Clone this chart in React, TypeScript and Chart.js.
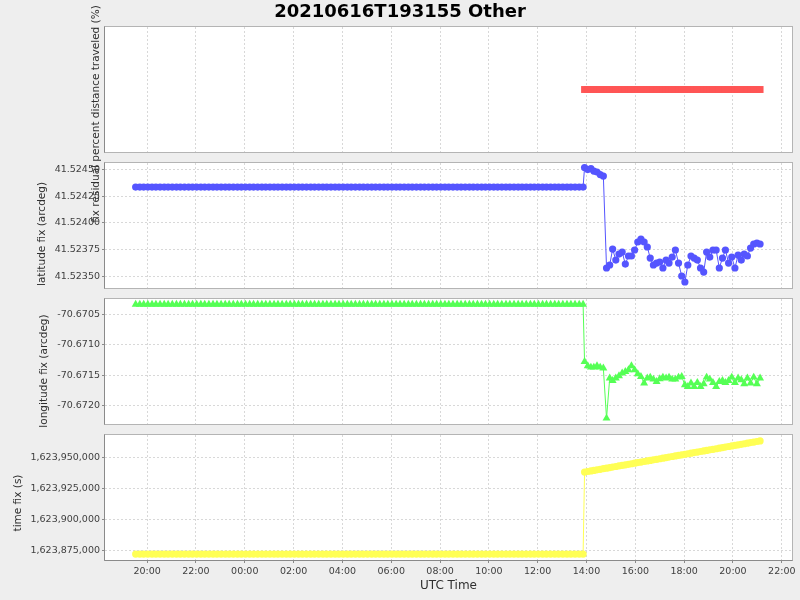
import React, { useEffect, useRef } from 'react';
import { Chart, registerables } from 'chart.js';

Chart.register(...registerables);

// ---------- data (hours since 2021-06-16 00:00 UTC) ----------
const timeHoursA = [
  19.53, 19.70, 19.86,
  20.03, 20.20, 20.36, 20.53, 20.70, 20.86,
  21.03, 21.20, 21.36, 21.53, 21.70, 21.86,
  22.03, 22.20, 22.36, 22.53, 22.70, 22.86,
  23.03, 23.20, 23.36, 23.53, 23.70, 23.86,
  24.03, 24.20, 24.36, 24.53, 24.70, 24.86,
  25.03, 25.20, 25.36, 25.53, 25.70, 25.86,
  26.03, 26.20, 26.36, 26.53, 26.70, 26.86,
  27.03, 27.20, 27.36, 27.53, 27.70, 27.86,
  28.03, 28.20, 28.36, 28.53, 28.70, 28.86,
  29.03, 29.20, 29.36, 29.53, 29.70, 29.86,
  30.03, 30.20, 30.36, 30.53, 30.70, 30.86,
  31.03, 31.20, 31.36, 31.53, 31.70, 31.86,
  32.03, 32.20, 32.36, 32.53, 32.70, 32.86,
  33.03, 33.20, 33.36, 33.53, 33.70, 33.86,
  34.03, 34.20, 34.36, 34.53, 34.70, 34.86,
  35.03, 35.20, 35.36, 35.53, 35.70, 35.86,
  36.03, 36.20, 36.36, 36.53, 36.70, 36.86,
  37.03, 37.20, 37.36, 37.53, 37.70, 37.86,
];

const timeHoursB = [
  37.92, 38.05, 38.18, 38.30, 38.43, 38.56, 38.69, 38.82, 38.95, 39.07,
  39.20, 39.33, 39.46, 39.59, 39.72, 39.84, 39.97, 40.10, 40.23, 40.36,
  40.49, 40.61, 40.74, 40.87, 41.00, 41.13, 41.26, 41.38, 41.51, 41.64,
  41.77, 41.90, 42.03, 42.15, 42.28, 42.41, 42.54, 42.67, 42.80, 42.92,
  43.05, 43.18, 43.31, 43.44, 43.57, 43.69, 43.82, 43.95, 44.08, 44.21,
  44.34, 44.46, 44.59, 44.72, 44.85, 44.98, 45.11,
];

const latitudeA = [
  41.524334, 41.524334, 41.524334,
  41.524334, 41.524334, 41.524334, 41.524334, 41.524334, 41.524334,
  41.524334, 41.524334, 41.524334, 41.524334, 41.524334, 41.524334,
  41.524334, 41.524334, 41.524334, 41.524334, 41.524334, 41.524334,
  41.524334, 41.524334, 41.524334, 41.524334, 41.524334, 41.524334,
  41.524334, 41.524334, 41.524334, 41.524334, 41.524334, 41.524334,
  41.524334, 41.524334, 41.524334, 41.524334, 41.524334, 41.524334,
  41.524334, 41.524334, 41.524334, 41.524334, 41.524334, 41.524334,
  41.524334, 41.524334, 41.524334, 41.524334, 41.524334, 41.524334,
  41.524334, 41.524334, 41.524334, 41.524334, 41.524334, 41.524334,
  41.524334, 41.524334, 41.524334, 41.524334, 41.524334, 41.524334,
  41.524334, 41.524334, 41.524334, 41.524334, 41.524334, 41.524334,
  41.524334, 41.524334, 41.524334, 41.524334, 41.524334, 41.524334,
  41.524334, 41.524334, 41.524334, 41.524334, 41.524334, 41.524334,
  41.524334, 41.524334, 41.524334, 41.524334, 41.524334, 41.524334,
  41.524334, 41.524334, 41.524334, 41.524334, 41.524334, 41.524334,
  41.524334, 41.524334, 41.524334, 41.524334, 41.524334, 41.524334,
  41.524334, 41.524334, 41.524334, 41.524334, 41.524334, 41.524334,
  41.524334, 41.524334, 41.524334, 41.524334, 41.524334, 41.524334,
];

const latitudeB = [
  41.524517, 41.524498, 41.524507, 41.524484, 41.524475, 41.524451, 41.524437,
  41.523578, 41.523606, 41.523755, 41.523652, 41.523708, 41.523727, 41.523615,
  41.523690, 41.523690, 41.523746, 41.523821, 41.523849, 41.523821, 41.523774,
  41.523671, 41.523606, 41.523624, 41.523634, 41.523578, 41.523652, 41.523624,
  41.523680, 41.523746, 41.523624, 41.523503, 41.523447, 41.523606, 41.523690,
  41.523671, 41.523652, 41.523578, 41.523540, 41.523727, 41.523680, 41.523746,
  41.523746, 41.523578, 41.523671, 41.523746, 41.523624, 41.523680, 41.523578,
  41.523699, 41.523652, 41.523708, 41.523690, 41.523764, 41.523802, 41.523811,
  41.523802,
];

const longitudeA = [
  -70.670338, -70.670338, -70.670338,
  -70.670338, -70.670338, -70.670338, -70.670338, -70.670338, -70.670338,
  -70.670338, -70.670338, -70.670338, -70.670338, -70.670338, -70.670338,
  -70.670338, -70.670338, -70.670338, -70.670338, -70.670338, -70.670338,
  -70.670338, -70.670338, -70.670338, -70.670338, -70.670338, -70.670338,
  -70.670338, -70.670338, -70.670338, -70.670338, -70.670338, -70.670338,
  -70.670338, -70.670338, -70.670338, -70.670338, -70.670338, -70.670338,
  -70.670338, -70.670338, -70.670338, -70.670338, -70.670338, -70.670338,
  -70.670338, -70.670338, -70.670338, -70.670338, -70.670338, -70.670338,
  -70.670338, -70.670338, -70.670338, -70.670338, -70.670338, -70.670338,
  -70.670338, -70.670338, -70.670338, -70.670338, -70.670338, -70.670338,
  -70.670338, -70.670338, -70.670338, -70.670338, -70.670338, -70.670338,
  -70.670338, -70.670338, -70.670338, -70.670338, -70.670338, -70.670338,
  -70.670338, -70.670338, -70.670338, -70.670338, -70.670338, -70.670338,
  -70.670338, -70.670338, -70.670338, -70.670338, -70.670338, -70.670338,
  -70.670338, -70.670338, -70.670338, -70.670338, -70.670338, -70.670338,
  -70.670338, -70.670338, -70.670338, -70.670338, -70.670338, -70.670338,
  -70.670338, -70.670338, -70.670338, -70.670338, -70.670338, -70.670338,
  -70.670338, -70.670338, -70.670338, -70.670338, -70.670338, -70.670338,
];

const longitudeB = [
  -70.671277, -70.671347, -70.671369, -70.671369, -70.671347, -70.671369, -70.671385,
  -70.672206, -70.671549, -70.671589, -70.671549, -70.671512, -70.671467, -70.671441,
  -70.671413, -70.671347, -70.671413, -70.671479, -70.671523, -70.671631, -70.671549,
  -70.671533, -70.671566, -70.671605, -70.671561, -70.671533, -70.671549, -70.671533,
  -70.671566, -70.671566, -70.671533, -70.671523, -70.671659, -70.671687, -70.671631,
  -70.671687, -70.671621, -70.671687, -70.671643, -70.671533, -70.671566, -70.671621,
  -70.671687, -70.671605, -70.671589, -70.671621, -70.671589, -70.671533, -70.671621,
  -70.671549, -70.671577, -70.671643, -70.671549, -70.671631, -70.671533, -70.671643,
  -70.671549,
];

const timeFixA = [
  1623872300, 1623872300, 1623872300,
  1623872300, 1623872300, 1623872300, 1623872300, 1623872300, 1623872300,
  1623872300, 1623872300, 1623872300, 1623872300, 1623872300, 1623872300,
  1623872300, 1623872300, 1623872300, 1623872300, 1623872300, 1623872300,
  1623872300, 1623872300, 1623872300, 1623872300, 1623872300, 1623872300,
  1623872300, 1623872300, 1623872300, 1623872300, 1623872300, 1623872300,
  1623872300, 1623872300, 1623872300, 1623872300, 1623872300, 1623872300,
  1623872300, 1623872300, 1623872300, 1623872300, 1623872300, 1623872300,
  1623872300, 1623872300, 1623872300, 1623872300, 1623872300, 1623872300,
  1623872300, 1623872300, 1623872300, 1623872300, 1623872300, 1623872300,
  1623872300, 1623872300, 1623872300, 1623872300, 1623872300, 1623872300,
  1623872300, 1623872300, 1623872300, 1623872300, 1623872300, 1623872300,
  1623872300, 1623872300, 1623872300, 1623872300, 1623872300, 1623872300,
  1623872300, 1623872300, 1623872300, 1623872300, 1623872300, 1623872300,
  1623872300, 1623872300, 1623872300, 1623872300, 1623872300, 1623872300,
  1623872300, 1623872300, 1623872300, 1623872300, 1623872300, 1623872300,
  1623872300, 1623872300, 1623872300, 1623872300, 1623872300, 1623872300,
  1623872300, 1623872300, 1623872300, 1623872300, 1623872300, 1623872300,
  1623872300, 1623872300, 1623872300, 1623872300, 1623872300, 1623872300,
];

const timeFixB = [
  1623938150, 1623938600, 1623939040, 1623939490, 1623939930, 1623940380, 1623940830,
  1623941270, 1623941720, 1623942160, 1623942610, 1623943060, 1623943500, 1623943950,
  1623944390, 1623944840, 1623945290, 1623945730, 1623946180, 1623946620, 1623947070,
  1623947520, 1623947960, 1623948410, 1623948850, 1623949300, 1623949750, 1623950190,
  1623950640, 1623951080, 1623951530, 1623951980, 1623952420, 1623952870, 1623953310,
  1623953760, 1623954210, 1623954650, 1623955100, 1623955540, 1623955990, 1623956440,
  1623956880, 1623957330, 1623957770, 1623958220, 1623958670, 1623959110, 1623959560,
  1623960000, 1623960450, 1623960900, 1623961340, 1623961790, 1623962230, 1623962680,
  1623963130,
];

const percentB = [
  0, 0, 0, 0, 0, 0, 0, 0, 0, 0, 0, 0, 0, 0, 0, 0, 0, 0, 0, 0,
  0, 0, 0, 0, 0, 0, 0, 0, 0, 0, 0, 0, 0, 0, 0, 0, 0, 0, 0, 0,
  0, 0, 0, 0, 0, 0, 0, 0, 0, 0, 0, 0, 0, 0, 0, 0, 0,
];

// ---------- ticks ----------
const xTickHours = [20, 22, 24, 26, 28, 30, 32, 34, 36, 38, 40, 42, 44, 46];
const xTickLabels = ['20:00', '22:00', '00:00', '02:00', '04:00', '06:00', '08:00', '10:00', '12:00', '14:00', '16:00', '18:00', '20:00', '22:00'];
const latTicks = [41.5235, 41.52375, 41.524, 41.52425, 41.5245];
const latTickLabels = ['41.52350', '41.52375', '41.52400', '41.52425', '41.52450'];
const lonTicks = [-70.672, -70.6715, -70.671, -70.6705];
const lonTickLabels = ['-70.6720', '-70.6715', '-70.6710', '-70.6705'];
const timeFixTicks = [1623875000, 1623900000, 1623925000, 1623950000];
const timeFixTickLabels = ['1,623,875,000', '1,623,900,000', '1,623,925,000', '1,623,950,000'];

const chartTitle = '20210616T193155 Other';
const xAxisTitle = 'UTC Time';
const yTitles = [
  'fix residual percent distance traveled (%)',
  'latitude fix (arcdeg)',
  'longitude fix (arcdeg)',
  'time fix (s)',
];

// ---------- layout / style ----------
const W = 800;
const H = 600;
const AREA_LEFT = 105;
const AREA_RIGHT = 792;
const X_MIN = 18.274;
const X_MAX = 46.418;
const GRID = '#d8d8d8';
const TICK_COLOR = '#404040';
const FONT = '"DejaVu Sans", "Noto Sans", sans-serif';
const tickFont = { family: FONT, size: 9.5 };

type TextItem = { text: string; x: number; y: number; font: string; color: string; rotate?: boolean };

function pairs(xs: number[], ys: number[]) {
  return ys.map((y, i) => ({ x: xs[i], y }));
}

function decorPlugin(texts: TextItem[], bottomAxis: boolean) {
  return {
    id: 'panelDecor',
    beforeDraw(chart: any) {
      const { ctx, chartArea: a } = chart;
      ctx.save();
      ctx.fillStyle = '#ffffff';
      ctx.fillRect(a.left, a.top, a.right - a.left, a.bottom - a.top);
      ctx.restore();
    },
    afterDraw(chart: any) {
      const { ctx, chartArea: a } = chart;
      ctx.save();
      ctx.lineWidth = 1;
      ctx.strokeStyle = '#b4b4b4';
      ctx.strokeRect(a.left - 0.5, a.top - 0.5, a.right - a.left + 1, a.bottom - a.top + 1);
      ctx.strokeStyle = '#8a8a8a';
      ctx.beginPath();
      ctx.moveTo(a.left - 0.5, a.top - 0.5);
      ctx.lineTo(a.left - 0.5, a.bottom + 0.5);
      if (bottomAxis) ctx.lineTo(a.right + 0.5, a.bottom + 0.5);
      ctx.stroke();
      for (const t of texts) {
        ctx.save();
        ctx.translate(t.x, t.y);
        if (t.rotate) ctx.rotate(-Math.PI / 2);
        ctx.font = t.font;
        ctx.fillStyle = t.color;
        ctx.textAlign = 'center';
        ctx.textBaseline = 'middle';
        ctx.fillText(t.text, 0, 0);
        ctx.restore();
      }
      ctx.restore();
    },
  };
}

type PanelSpec = {
  top: number;
  bottom: number;
  bottomAxis: boolean;
  yMin: number;
  yMax: number;
  yTicks: number[];
  yTickLabels: string[];
  datasets: any[];
  texts: TextItem[];
};

function makeConfig(p: PanelSpec): any {
  const xh = p.bottomAxis ? 40 : 0;
  const hasY = p.yTicks.length > 0;
  return {
    type: 'line',
    data: { datasets: p.datasets },
    options: {
      animation: false,
      responsive: false,
      devicePixelRatio: 1,
      events: [],
      layout: {
        autoPadding: false,
        padding: { left: 0, right: W - AREA_RIGHT, top: p.top, bottom: H - p.bottom - xh },
      },
      plugins: { legend: { display: false }, tooltip: { enabled: false }, title: { display: false } },
      scales: {
        x: {
          type: 'linear',
          min: X_MIN,
          max: X_MAX,
          afterFit: (s: any) => { s.height = xh; },
          afterBuildTicks: (s: any) => { s.ticks = xTickHours.map((v) => ({ value: v })); },
          grid: { color: GRID, lineWidth: 1, drawTicks: p.bottomAxis, tickLength: 3, tickColor: '#8a8a8a', tickBorderDash: [] },
          border: { display: false, dash: [2, 2] },
          ticks: {
            display: p.bottomAxis,
            padding: 3,
            autoSkip: false,
            maxRotation: 0,
            font: tickFont,
            color: TICK_COLOR,
            callback: (_v: any, i: number) => xTickLabels[i],
          },
        },
        y: {
          type: 'linear',
          min: p.yMin,
          max: p.yMax,
          afterFit: (s: any) => { s.width = AREA_LEFT; },
          afterBuildTicks: hasY ? (s: any) => { s.ticks = p.yTicks.map((v) => ({ value: v })); } : undefined,
          grid: { display: hasY, color: GRID, lineWidth: 1, drawTicks: true, tickLength: 3, tickColor: '#8a8a8a', tickBorderDash: [] },
          border: { display: false, dash: [2, 2] },
          ticks: {
            display: hasY,
            padding: 2,
            font: tickFont,
            color: TICK_COLOR,
            callback: (_v: any, i: number) => p.yTickLabels[i],
          },
        },
      },
    },
    plugins: [decorPlugin(p.texts, p.bottomAxis)],
  };
}

const allTimes = [...timeHoursA, ...timeHoursB];
const labelFont = `10.5px ${FONT}`;
const labelColor = '#303030';

const panels: PanelSpec[] = [
  {
    top: 27, bottom: 152, bottomAxis: false,
    yMin: -1, yMax: 1, yTicks: [], yTickLabels: [],
    datasets: [{
      data: pairs(timeHoursB, percentB),
      borderColor: '#ff5555', backgroundColor: '#ff5555', borderWidth: 1,
      pointStyle: 'rect', pointRadius: 4.9, pointBorderWidth: 0,
    }],
    texts: [
      { text: chartTitle, x: 400, y: 12, font: `bold 18px ${FONT}`, color: '#000000' },
      { text: yTitles[0], x: 96, y: 114, font: labelFont, color: labelColor, rotate: true },
    ],
  },
  {
    top: 163, bottom: 288, bottomAxis: false,
    yMin: 41.523391, yMax: 41.524559, yTicks: latTicks, yTickLabels: latTickLabels,
    datasets: [{
      data: pairs(allTimes, [...latitudeA, ...latitudeB]),
      borderColor: '#5555ff', backgroundColor: '#5555ff', borderWidth: 1,
      pointStyle: 'circle', pointRadius: 3.6, pointBorderWidth: 0,
    }],
    texts: [{ text: yTitles[1], x: 42, y: 234, font: labelFont, color: labelColor, rotate: true }],
  },
  {
    top: 299, bottom: 424, bottomAxis: false,
    yMin: -70.6723003, yMax: -70.670249, yTicks: lonTicks, yTickLabels: lonTickLabels,
    datasets: [{
      data: pairs(allTimes, [...longitudeA, ...longitudeB]),
      borderColor: '#55ff55', backgroundColor: '#55ff55', borderWidth: 1,
      pointStyle: 'triangle', pointRadius: 4.6, pointBorderWidth: 0,
    }],
    texts: [{ text: yTitles[2], x: 44, y: 371, font: labelFont, color: labelColor, rotate: true }],
  },
  {
    top: 435, bottom: 560, bottomAxis: true,
    yMin: 1623867532, yMax: 1623967907, yTicks: timeFixTicks, yTickLabels: timeFixTickLabels,
    datasets: [{
      data: pairs(allTimes, [...timeFixA, ...timeFixB]),
      borderColor: '#ffff55', backgroundColor: '#ffff55', borderWidth: 1,
      pointStyle: 'circle', pointRadius: 3.6, pointBorderWidth: 0,
    }],
    texts: [
      { text: yTitles[3], x: 18, y: 503, font: labelFont, color: labelColor, rotate: true },
      { text: xAxisTitle, x: 448.5, y: 586, font: `12px ${FONT}`, color: labelColor },
    ],
  },
];

function Panel({ spec }: { spec: PanelSpec }) {
  const ref = useRef<HTMLCanvasElement | null>(null);
  useEffect(() => {
    if (!ref.current) return;
    const chart = new Chart(ref.current, makeConfig(spec));
    return () => chart.destroy();
  }, [spec]);
  return (
    <canvas
      ref={ref}
      width={W}
      height={H}
      style={{ position: 'absolute', left: 0, top: 0, width: W, height: H }}
    />
  );
}

export default function App() {
  return (
    <div style={{ position: 'fixed', left: 0, top: 0, width: W, height: H, background: '#eeeeee', overflow: 'hidden' }}>
      {panels.map((p, i) => (
        <Panel key={i} spec={p} />
      ))}
    </div>
  );
}
